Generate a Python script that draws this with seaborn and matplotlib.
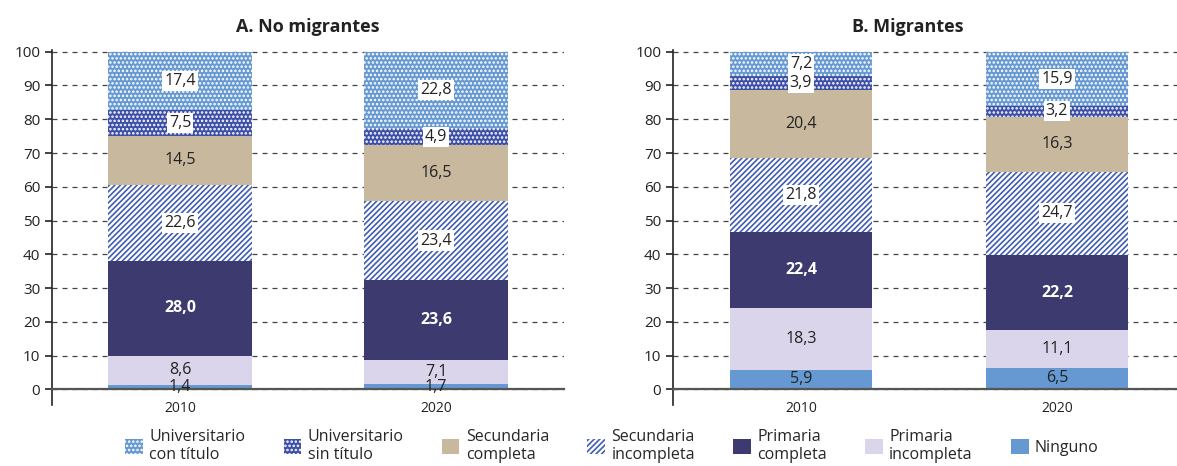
import matplotlib.pyplot as plt
import numpy as np
import seaborn as sns
from matplotlib.patches import Patch

years = ["2010", "2020"]
levels = ["Ninguno", "Primaria\nincompleta", "Primaria\ncompleta", "Secundaria\nincompleta",
          "Secundaria\ncompleta", "Universitario\nsin título", "Universitario\ncon título"]

# shares by level, bottom (Ninguno) to top (Universitario con título)
no_mig_2010 = [1.4, 8.6, 28.0, 22.6, 14.5, 7.5, 17.4]
no_mig_2020 = [1.7, 7.1, 23.6, 23.4, 16.5, 4.9, 22.8]
mig_2010 = [5.9, 18.3, 22.4, 21.8, 20.4, 3.9, 7.2]
mig_2020 = [6.5, 11.1, 22.2, 24.7, 16.3, 3.2, 15.9]

# face, hatch colour, hatch, label style
styles = [
    ("#6699d1", "#6699d1", "", "dark"),
    ("#dad5ea", "#dad5ea", "", "dark"),
    ("#3c3a6e", "#3c3a6e", "", "bold"),
    ("white", "#3f5db5", "//////", "box"),
    ("#c8b89d", "#c8b89d", "", "dark"),
    ("#3d4fa6", "white", "....", "box"),
    ("#6699d1", "white", "....", "box"),
]

sns.set_style("white")
plt.rcParams["font.family"] = ["Open Sans", "DejaVu Sans"]
plt.rcParams["hatch.linewidth"] = 1.2

fig = plt.figure(figsize=(11.77, 4.66), dpi=100)
ax_a = fig.add_axes([52 / 1177, 1 - 405 / 466, 512 / 1177, (405 - 50) / 466])
ax_b = fig.add_axes([673 / 1177, 1 - 405 / 466, 512 / 1177, (405 - 50) / 466])


def panel(ax, v2010, v2020, width):
    data = np.array([v2010, v2020])
    tops = data.cumsum(axis=1)
    for i in range(len(levels) - 1, -1, -1):
        face, edge, hatch, _ = styles[i]
        sns.barplot(x=years, y=tops[:, i], color=face, saturation=1, width=width,
                    hatch=hatch, edgecolor=edge, linewidth=0, ax=ax, zorder=2)
    for j in range(2):
        bottom = 0
        for i, v in enumerate(data[j]):
            mid = bottom + v / 2
            bottom += v
            txt = f"{v:.1f}".replace(".", ",")
            kind = styles[i][3]
            if kind == "bold":
                ax.text(j, mid, txt, ha="center", va="center", fontsize=11.5,
                        color="white", fontweight="bold", zorder=5)
            elif kind == "box":
                ax.text(j, mid, txt, ha="center", va="center", fontsize=11.5, color="#222222",
                        zorder=5, bbox=dict(facecolor="white", edgecolor="none", pad=1.5))
            else:
                ax.text(j, mid, txt, ha="center", va="center", fontsize=11.5,
                        color="#222222", zorder=5)
    ax.set_xlim(-0.5, 1.5)
    ax.set_ylim(-4.6, 100.5)
    ax.set_yticks(range(0, 101, 10))
    ax.yaxis.grid(True, linestyle=(0, (4, 4)), color="#444444", linewidth=0.9, zorder=0)
    ax.set_axisbelow(True)
    ax.spines["top"].set_visible(False)
    ax.spines["right"].set_visible(False)
    ax.spines["bottom"].set_position(("data", 0))
    ax.spines["bottom"].set_color("#555555")
    ax.spines["bottom"].set_linewidth(1.6)
    ax.spines["left"].set_color("#222222")
    ax.spines["left"].set_linewidth(1.2)
    ax.set_xticks([0, 1], years)
    ax.set_xticks([0.5, 1.5], minor=True)
    ax.tick_params(axis="x", which="major", length=0, pad=8, labelsize=10, colors="#222222")
    ax.tick_params(axis="x", which="minor", length=8, width=1.4, color="#555555", direction="out")
    ax.tick_params(axis="y", length=5, width=1.2, direction="out", left=True,
                   labelsize=11, colors="#222222")
    ax.set_xlabel("")
    ax.set_ylabel("")


panel(ax_a, no_mig_2010, no_mig_2020, 0.56)
panel(ax_b, mig_2010, mig_2020, 0.555)

fig.text(308 / 1177, 1 - 27 / 466, "A. No migrantes", ha="center", va="center",
         fontsize=13, fontweight="bold", color="#222222")
fig.text(908 / 1177, 1 - 27 / 466, "B. Migrantes", ha="center", va="center",
         fontsize=13, fontweight="bold", color="#222222")

handles = []
for i in range(len(levels) - 1, -1, -1):
    face, edge, hatch, _ = styles[i]
    handles.append(Patch(facecolor=face, edgecolor=edge, hatch=hatch, linewidth=0,
                         label=levels[i]))
fig.legend(handles=handles, loc="center", bbox_to_anchor=(612 / 1177, 1 - 446 / 466),
           ncol=7, frameon=False, fontsize=11.5, handlelength=1.1, handleheight=1.1,
           columnspacing=2.4, handletextpad=0.4, labelspacing=0)

fig.savefig("out.png", dpi=100)
